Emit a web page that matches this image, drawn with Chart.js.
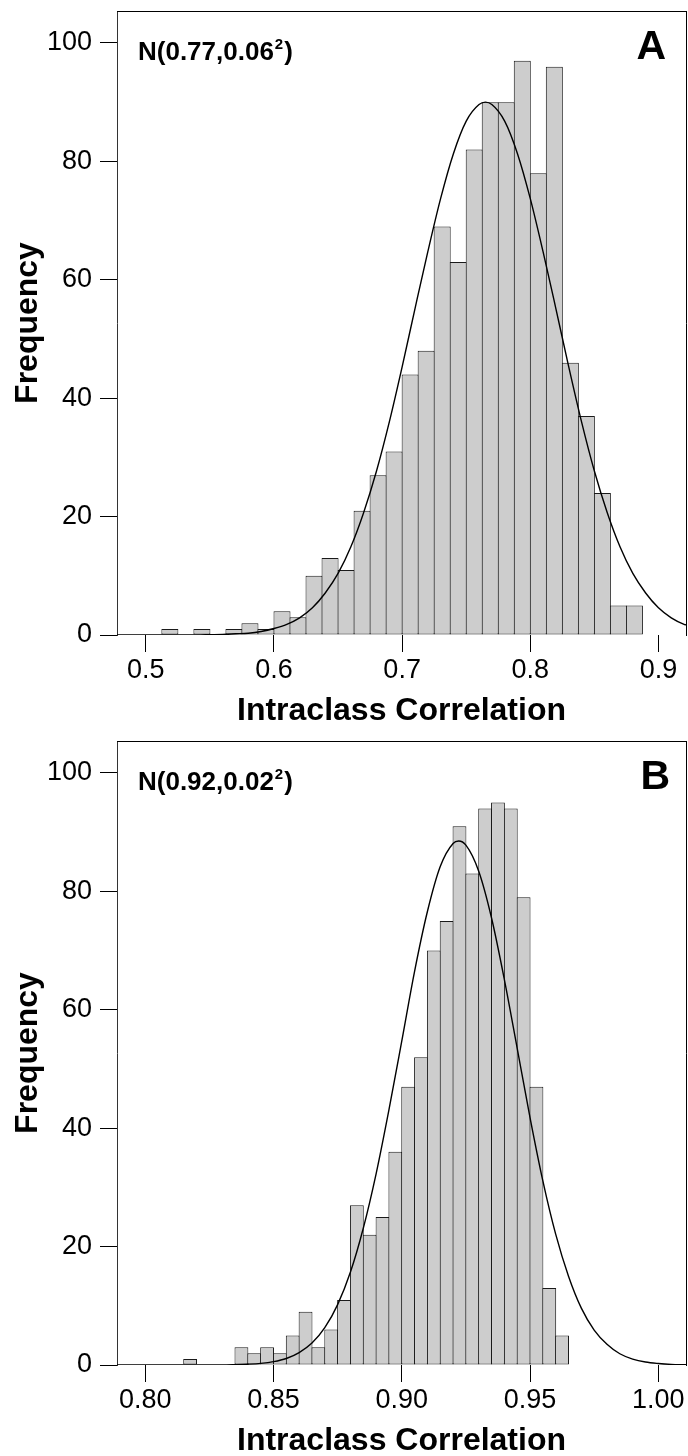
<!DOCTYPE html>
<html><head><meta charset="utf-8">
<script src="https://cdn.jsdelivr.net/npm/chart.js@4.4.1/dist/chart.umd.min.js"></script>
<style>
html,body{margin:0;padding:0;background:#fff;overflow:hidden;width:688px;height:1456px}
.wrap{position:absolute;left:0;width:688px;height:730px}
#wa{top:0} #wb{top:730px}
canvas{display:block}
</style></head><body>
<div class="wrap" id="wa"><canvas id="ca" width="688" height="730"></canvas></div>
<div class="wrap" id="wb"><canvas id="cb" width="688" height="730"></canvas></div>
<script>
// ---------- Panel A data ----------
const binWidthA = 0.0125;
const binStartA = [0.5125,0.5375,0.5625,0.575,0.5875,0.6,0.6125,0.625,0.6375,0.65,0.6625,0.675,0.6875,0.7,0.7125,0.725,0.7375,0.75,0.7625,0.775,0.7875,0.8,0.8125,0.825,0.8375,0.85,0.8625,0.875];
const countsA   = [1,1,1,2,1,4,3,10,13,11,21,27,31,44,48,69,63,82,90,90,97,78,96,46,37,24,5,5];
const curveXA = [0.4775,0.50,0.52,0.54,0.55,0.56,0.57,0.58,0.59,0.60,0.61,0.62,0.63,0.64,0.65,0.66,0.67,0.68,0.69,0.70,0.71,0.72,0.73,0.74,0.75,0.76,0.765,0.77,0.78,0.79,0.80,0.81,0.82,0.83,0.84,0.85,0.86,0.87,0.88,0.89,0.90,0.91,0.92,0.9215];
const curveYA = [0,0,0,0,0.05,0.1,0.2,0.3,0.6,1.1,1.8,2.9,4.6,7.1,10.4,14.9,20.7,27.7,36.0,45.3,55.1,64.7,73.7,81.3,86.8,89.6,90,89.6,86.8,81.3,73.7,64.7,55.1,45.3,36.0,27.7,20.7,14.9,10.4,7.1,4.6,2.9,1.8,1.7];
const xTicksA = [0.5,0.6,0.7,0.8,0.9];
const xRangeA = [0.4775,0.9215];

// ---------- Panel B data ----------
const binWidthB = 0.005;
const binStartB = [0.815,0.835,0.84,0.845,0.85,0.855,0.86,0.865,0.87,0.875,0.88,0.885,0.89,0.895,0.9,0.905,0.91,0.915,0.92,0.925,0.93,0.935,0.94,0.945,0.95,0.955,0.96];
const countsB   = [1,3,2,3,2,5,9,3,6,11,27,22,25,36,47,52,70,75,91,83,94,95,94,79,47,13,5];
const curveXB = [0.789,0.80,0.81,0.82,0.83,0.835,0.84,0.845,0.85,0.855,0.86,0.865,0.87,0.875,0.88,0.885,0.89,0.895,0.90,0.905,0.91,0.915,0.92,0.9222,0.925,0.93,0.935,0.94,0.945,0.95,0.955,0.96,0.965,0.97,0.975,0.98,0.985,0.99,0.995,1.00,1.005,1.0108];
const curveYB = [0,0,0,0,0,0.05,0.13,0.27,0.56,1.1,2.1,3.7,6.3,10.2,15.7,23.1,32.3,43.1,54.7,66.5,76.6,84.2,88.1,88.5,87.8,83.4,75.5,65.1,53.5,41.8,31.1,22.1,15.0,9.6,5.9,3.5,1.9,1.0,0.5,0.25,0.1,0.05];
const xTicksB = [0.80,0.85,0.90,0.95,1.00];
const xRangeB = [0.789,1.0108];

// ---------- shared ----------
const yTicks = [0,20,40,60,80,100];
const yMax = 105.4;
const xTitle = 'Intraclass Correlation';
const yTitle = 'Frequency';

const FONT = "'Liberation Sans', Arial, Helvetica, sans-serif";
Chart.defaults.font.family = FONT;
Chart.defaults.color = '#000';

function noPad(s) { s.paddingTop = 0; s.paddingBottom = 0; s.paddingLeft = 0; s.paddingRight = 0; }

function makeChart(canvasId, p) {
  const areaW = 686 - 117;
  const binPx = p.binWidth * areaW / (p.xRange[1] - p.xRange[0]);
  const annot = {
    id: 'annot',
    afterDraw(chart) {
      const c = chart.ctx, a = chart.chartArea;
      c.save();
      c.fillStyle = '#000';
      c.textBaseline = 'alphabetic';
      c.textAlign = 'left';
      c.font = 'bold 26px ' + FONT;
      let x = a.left + 21, y = a.top + 49;
      c.fillText(p.labelMain, x, y);
      x += c.measureText(p.labelMain).width;
      c.font = 'bold 15px ' + FONT;
      c.fillText('2', x + 1, y - 11);
      x += c.measureText('2').width + 1;
      c.font = 'bold 26px ' + FONT;
      c.fillText(')', x + 1, y);
      c.font = 'bold 41px ' + FONT;
      c.textAlign = 'right';
      c.fillText(p.panel, a.right - p.panelDx, a.top + 48);
      c.restore();
    }
  };
  return new Chart(document.getElementById(canvasId), {
    data: {
      datasets: [
        {
          type: 'bar',
          data: p.binStart.map((s, i) => ({x: s + p.binWidth / 2, y: p.counts[i]})),
          backgroundColor: '#cdcdcd',
          borderColor: '#1a1a1a',
          borderWidth: 1,
          borderSkipped: false,
          barPercentage: 1 + 1 / binPx,
          categoryPercentage: 1,
          order: 2
        },
        {
          type: 'line',
          data: p.curveX.map((x, i) => ({x: x, y: p.curveY[i]})),
          borderColor: '#000',
          borderWidth: 1.4,
          pointRadius: 0,
          fill: false,
          cubicInterpolationMode: 'monotone',
          order: 1
        }
      ]
    },
    options: {
      responsive: false,
      animation: false,
      devicePixelRatio: 1,
      layout: {padding: {top: 11, right: 2, left: 0, bottom: 0}},
      plugins: {legend: {display: false}, tooltip: {enabled: false}},
      scales: {
        x: {
          type: 'linear', position: 'bottom',
          min: p.xRange[0], max: p.xRange[1], offset: false,
          afterBuildTicks: s => { s.ticks = p.xTicks.map(v => ({value: v})); },
          afterFit: s => { s.height = 95; noPad(s); },
          ticks: {callback: v => Number(v).toFixed(p.dec), font: {size: 27}, color: '#000', padding: 2, maxRotation: 0, autoSkip: false},
          grid: {drawOnChartArea: false, drawTicks: true, tickLength: 17, color: '#000', lineWidth: 1, offset: false},
          border: {display: false},
          title: {display: true, text: xTitle, font: {size: 32, weight: 'bold'}, color: '#000', padding: 0}
        },
        y: {
          type: 'linear', position: 'left', min: 0, max: yMax,
          afterBuildTicks: s => { s.ticks = yTicks.map(v => ({value: v})); },
          afterFit: s => { s.width = 117; noPad(s); },
          ticks: {font: {size: 27}, color: '#000', padding: 8},
          grid: {drawOnChartArea: false, drawTicks: true, tickLength: 17, color: '#000', lineWidth: 1},
          border: {display: true, color: '#333', width: 1},
          title: {display: true, text: yTitle, font: {size: 32, weight: 'bold'}, color: '#000', padding: {top: 9, bottom: 0}}
        },
        xTop: {
          type: 'linear', position: 'top', min: p.xRange[0], max: p.xRange[1],
          afterFit: s => { s.height = 0; noPad(s); },
          ticks: {display: false},
          grid: {display: false, drawOnChartArea: false, drawTicks: false},
          border: {display: true, color: '#000', width: 1}
        },
        yRight: {
          type: 'linear', position: 'right', min: 0, max: yMax,
          afterFit: s => { s.width = 0; noPad(s); },
          ticks: {display: false},
          grid: {display: false, drawOnChartArea: false, drawTicks: false},
          border: {display: true, color: '#000', width: 1}
        }
      }
    },
    plugins: [annot]
  });
}

makeChart('ca', {binWidth: binWidthA, binStart: binStartA, counts: countsA, curveX: curveXA, curveY: curveYA,
  xTicks: xTicksA, xRange: xRangeA, dec: 1, labelMain: 'N(0.77,0.06', panel: 'A', panelDx: 20});
makeChart('cb', {binWidth: binWidthB, binStart: binStartB, counts: countsB, curveX: curveXB, curveY: curveYB,
  xTicks: xTicksB, xRange: xRangeB, dec: 2, labelMain: 'N(0.92,0.02', panel: 'B', panelDx: 16});
</script>
</body></html>
